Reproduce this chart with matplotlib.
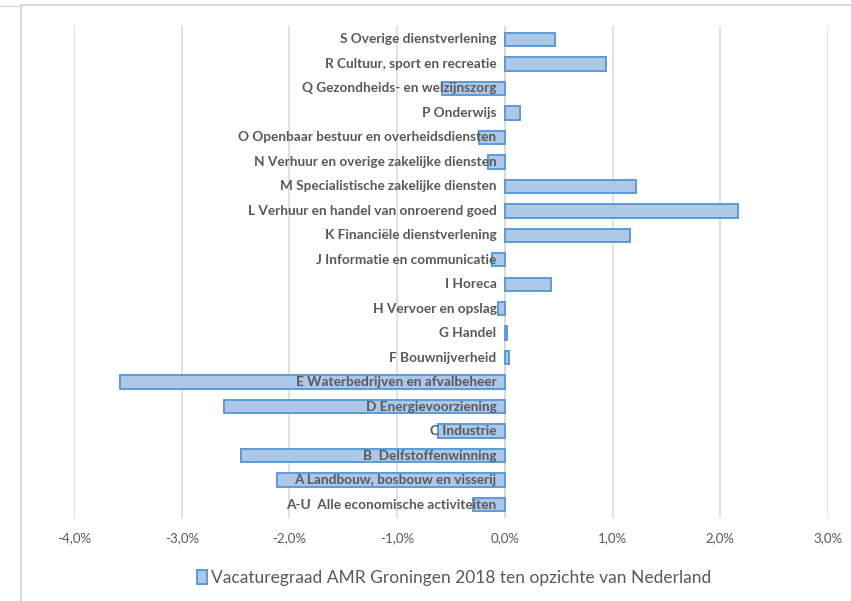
import matplotlib

matplotlib.use("Agg")
import matplotlib.pyplot as plt  # noqa: E402
from matplotlib.lines import Line2D  # noqa: E402
from matplotlib.patches import Patch  # noqa: E402

# bottom -> top, as drawn
SECTORS = [
    "A-U  Alle economische activiteiten",
    "A Landbouw, bosbouw en visserij",
    "B  Delfstoffenwinning",
    "C Industrie",
    "D Energievoorziening",
    "E Waterbedrijven en afvalbeheer",
    "F Bouwnijverheid",
    "G Handel",
    "H Vervoer en opslag",
    "I Horeca",
    "J Informatie en communicatie",
    "K Financiële dienstverlening",
    "L Verhuur en handel van onroerend goed",
    "M Specialistische zakelijke diensten",
    "N Verhuur en overige zakelijke diensten",
    "O Openbaar bestuur en overheidsdiensten",
    "P Onderwijs",
    "Q Gezondheids- en welzijnszorg",
    "R Cultuur, sport en recreatie",
    "S Overige dienstverlening",
]
VALUES = [-0.30, -2.12, -2.45, -0.62, -2.61, -3.57, 0.04, 0.02, -0.06, 0.43,
          -0.12, 1.16, 2.16, 1.22, -0.16, -0.24, 0.14, -0.58, 0.94, 0.47]
X_TICKS = [-4, -3, -2, -1, 0, 1, 2, 3]
LEGEND_LABEL = "Vacaturegraad AMR Groningen 2018 ten opzichte van Nederland"

GREY = "#595959"
FILL = "#adc7e9"
EDGE = "#5b9bd5"

plt.rcParams["font.family"] = ["Lato", "DejaVu Sans"]

fig = plt.figure(figsize=(8.51, 6.01), dpi=100)
ax = fig.add_axes([74 / 851, 1 - 518 / 601, (828 - 74) / 851, (518 - 26) / 601])

y = list(range(len(SECTORS)))
ax.barh(y, VALUES, height=0.55, color=FILL, edgecolor=EDGE, linewidth=1.4, zorder=2)

for yi, name in zip(y, SECTORS):
    ax.annotate(name, xy=(0, yi), xytext=(-6, 0), textcoords="offset points",
                ha="right", va="center", fontsize=9.8, fontweight="bold",
                color=GREY, zorder=5)

ax.set_xlim(-4, 3)
ax.set_ylim(-0.55, len(SECTORS) - 0.45)
ax.set_xticks(X_TICKS)
ax.set_xticklabels([f"{t:.1f}%".replace(".", ",") for t in X_TICKS],
                   fontsize=9.5, color=GREY)
ax.tick_params(axis="x", length=0, pad=10)
ax.set_yticks([])
ax.grid(axis="x", color="#d9d9d9", linewidth=1.1, zorder=0)
ax.axvline(0, color="#d9d9d9", linewidth=1.1, zorder=1)
for sp in ax.spines.values():
    sp.set_visible(False)

handle = Patch(facecolor=FILL, edgecolor=EDGE, linewidth=1.4)
fig.legend([handle], [LEGEND_LABEL], loc="center", bbox_to_anchor=(454 / 851, 1 - 578 / 601),
           frameon=False, fontsize=12.5, labelcolor=GREY, handlelength=0.6,
           handleheight=0.8, handletextpad=0.2)

# chart frame remnants
fig.add_artist(Line2D([22 / 851, 1], [1 - 5 / 601] * 2, color="#d9d9d9", linewidth=1.5))
fig.add_artist(Line2D([21 / 851] * 2, [0, 1 - 5 / 601], color="#d9d9d9", linewidth=1.5))
fig.add_artist(Line2D([0, 20 / 851], [1 - 6 / 601] * 2, color="#d9d9d9", linewidth=1.0))

fig.savefig("out.png", dpi=100)
